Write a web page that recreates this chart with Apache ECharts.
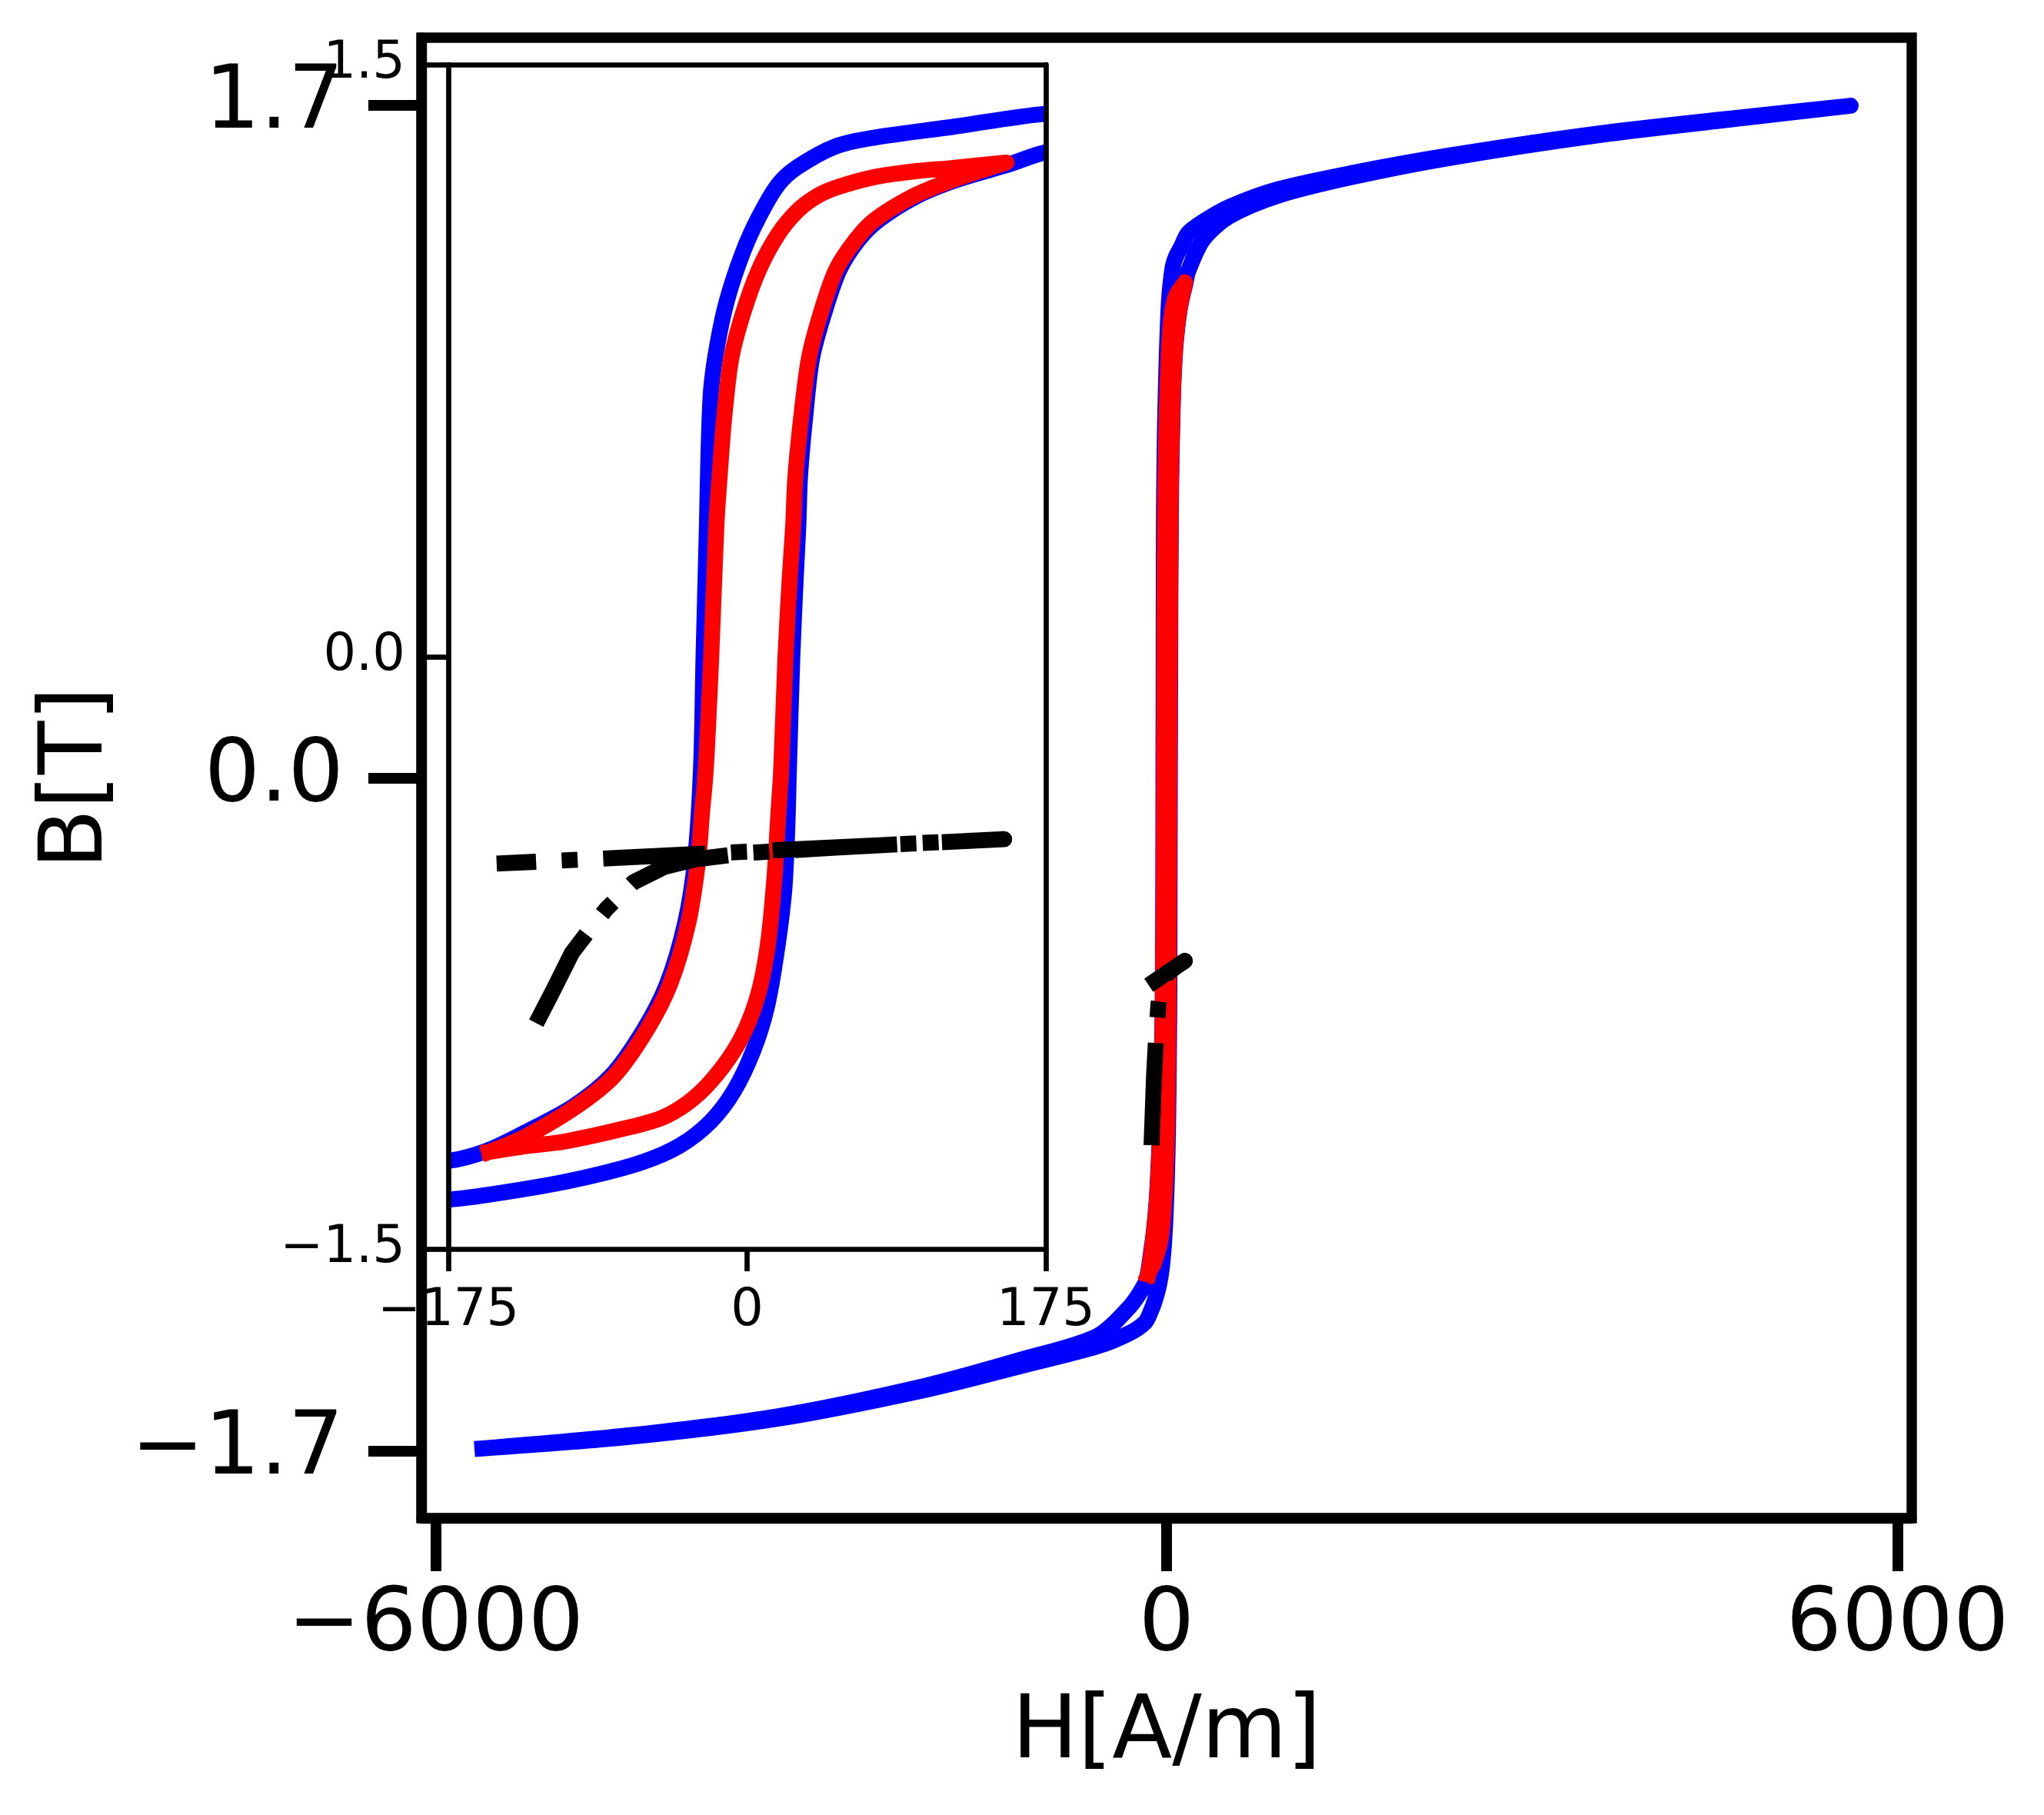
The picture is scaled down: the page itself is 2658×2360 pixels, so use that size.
<!DOCTYPE html>
<html>
<head>
<meta charset="utf-8">
<script src="https://cdn.jsdelivr.net/npm/echarts@6/dist/echarts.min.js"></script>
<style>
    html, body { margin: 0; padding: 0; background: #fff; }
    #chart { width: 2658px; height: 2360px; }
</style>
</head>
<body>
<div id="chart"></div>
<script>
// H [A/m], B [T]
var blueAscending = [
    [-5616, -1.694], [-4415, -1.665], [-3196, -1.619], [-1983, -1.546], [-1175, -1.484],
    [-569, -1.436], [-300, -1.402], [-175, -1.375], [-130, -1.348], [-96, -1.320],
    [-62, -1.281], [-39.3, -1.238], [-21.3, -1.177], [-7.7, -1.100], [3.6, -0.998],
    [11.5, -0.889], [17.2, -0.751], [21.7, -0.595], [23.5, -0.440], [24.5, -0.285],
    [26.5, 0.0], [28.5, 0.200], [30, 0.331], [31, 0.456], [34, 0.606],
    [38, 0.755], [45, 0.868], [54, 0.979], [65, 1.054], [77, 1.106],
    [99, 1.166], [122, 1.207], [154, 1.248], [176, 1.279], [300, 1.360],
    [512, 1.418], [916, 1.471], [1522, 1.518], [2337, 1.567], [3550, 1.624],
    [4763, 1.668], [5616, 1.698]
];
var blueDescending = [
    [5616, 1.698], [4763, 1.670], [3550, 1.628], [2337, 1.573], [1522, 1.528],
    [916, 1.487], [512, 1.442], [300, 1.405], [176, 1.376], [120, 1.342],
    [74.6, 1.315], [52, 1.293], [29.4, 1.240], [18, 1.195], [6.8, 1.113],
    [-2.5, 1.024], [-11.7, 0.904], [-17.3, 0.793], [-21, 0.680], [-22.5, 0.531],
    [-23.5, 0.337], [-25.5, 0.0], [-27, -0.285], [-30.5, -0.517], [-36.2, -0.673],
    [-46.8, -0.828], [-60.4, -0.944], [-79.6, -1.061], [-101.8, -1.139], [-130, -1.205],
    [-152.3, -1.251], [-175, -1.277], [-300, -1.335], [-569, -1.410], [-1175, -1.468],
    [-1983, -1.536], [-3196, -1.613], [-4415, -1.661], [-5616, -1.694]
];
var redAscending = [
    [-151, -1.254], [-130, -1.240], [-107, -1.228], [-73, -1.196], [-50.6, -1.169],
    [-34.8, -1.130], [-21.3, -1.076], [-7.7, -0.998], [1.4, -0.920], [8.1, -0.828],
    [12.7, -0.712], [16.1, -0.556], [18.3, -0.401], [20, -0.285], [22.5, 0.0],
    [25, 0.200], [27, 0.331], [28.3, 0.456], [31.7, 0.606], [36.2, 0.755],
    [43, 0.868], [52, 0.979], [63.3, 1.054], [74.6, 1.106], [97, 1.166],
    [120, 1.207], [152, 1.252]
];
var redDescending = [
    [152, 1.252], [120, 1.238], [97, 1.229], [74.6, 1.215], [52, 1.188],
    [40.7, 1.166], [29.4, 1.129], [18, 1.069], [6.8, 0.979], [-2.5, 0.868],
    [-9.3, 0.755], [-13.4, 0.606], [-16.1, 0.456], [-18, 0.331], [-21, 0.0],
    [-24.2, -0.285], [-26.5, -0.400], [-28.7, -0.517], [-34.4, -0.673], [-45, -0.828],
    [-58.6, -0.944], [-77.8, -1.061], [-100, -1.139], [-130, -1.216], [-151, -1.254]
];
// minor loop, drawn dash-dot
var blackPath = [
    [-123.5, -0.928], [-113, -0.840], [-102.6, -0.750], [-92, -0.690], [-82.3, -0.638],
    [-66.5, -0.571], [-48.4, -0.532], [-30.3, -0.513], [0, -0.497], [50, -0.484],
    [100, -0.472], [150.6, -0.462], [-146.7, -0.524]
];

var mainHTicks = [-6000, 0, 6000];
var mainBTicks = [-1.7, 0, 1.7];
var insetHTicks = [-175, 0, 175];
var insetBTicks = [-1.5, 0, 1.5];

var FONT = 'DejaVu Sans';
var LW = 20.8;
var DASHDOT = [6.4 * LW, 1.6 * LW, LW, 1.6 * LW];

// inset frame in pixels; the series grid sits LW/2 inside it because
// echarts widens the clip rect by half the line width
var INSET = { left: 583, right: 1298, top: 84, bottom: 736 };
var insetW = 2658 - INSET.left - INSET.right;
var insetH = 2360 - INSET.top - INSET.bottom;
var hHalf = 175 * (insetW - LW) / insetW;
var bHalf = 1.5 * (insetH - LW) / insetH;

function minus(s) {
    return String(s).replace('-', '\u2212');
}
function oneDec(v) {
    return minus(v.toFixed(1));
}

var chart = echarts.init(document.getElementById('chart'));

function curves(ax) {
    return [
        {
            type: 'line', xAxisIndex: ax, yAxisIndex: ax,
            data: blueAscending.concat(blueDescending.slice(1)),
            showSymbol: false, symbol: 'none', silent: true, clip: true, z: 2, smooth: 0.3,
            lineStyle: { color: '#0000ff', width: LW, cap: 'square', join: 'round' }
        },
        {
            type: 'line', xAxisIndex: ax, yAxisIndex: ax,
            data: redAscending.concat(redDescending.slice(1)),
            showSymbol: false, symbol: 'none', silent: true, clip: true, z: 3, smooth: 0.3,
            lineStyle: { color: '#ff0000', width: LW, cap: 'square', join: 'round' }
        },
        {
            type: 'line', xAxisIndex: ax, yAxisIndex: ax,
            data: blackPath,
            showSymbol: false, symbol: 'none', silent: true, clip: true, z: 4, smooth: false,
            lineStyle: { color: '#000', width: LW, type: DASHDOT, cap: 'butt', join: 'round' }
        }
    ];
}

function frameAxis(grid, pos, min, max, interval, ticks, labels, margin) {
    var ax = {
        gridIndex: grid, type: 'value', position: pos, min: min, max: max, z: 10,
        splitLine: { show: false },
        axisLine: { show: true, onZero: false, lineStyle: { color: '#000', width: 6.7 } },
        axisTick: { show: !!ticks, length: 29, lineStyle: { color: '#000', width: 6.7 } },
        axisLabel: { show: !!labels, margin: margin, fontSize: 67, fontFamily: FONT,
                     color: '#000', formatter: labels }
    };
    if (interval) { ax.interval = interval; }
    if (ticks) { ax.axisTick.customValues = ticks; ax.axisLabel.customValues = ticks; }
    return ax;
}

chart.setOption({
    animation: false,
    backgroundColor: '#fff',
    grid: [
        // main axes
        { left: 548, right: 172, top: 49, bottom: 386, show: true,
          borderColor: '#000', borderWidth: 13.4, backgroundColor: 'transparent' },
        // inset, series only
        { left: INSET.left + LW / 2, right: INSET.right + LW / 2,
          top: INSET.top + LW / 2, bottom: INSET.bottom + LW / 2 },
        // inset frame, ticks and labels
        { left: INSET.left, right: INSET.right, top: INSET.top, bottom: INSET.bottom,
          show: true, borderWidth: 0, backgroundColor: '#fff' }
    ],
    xAxis: [
        {
            gridIndex: 0, type: 'value', min: -6117, max: 6117,
            name: 'H[A/m]', nameLocation: 'middle', nameGap: 224,
            nameTextStyle: { fontSize: 114, fontFamily: FONT, color: '#000' },
            splitLine: { show: false },
            axisLine: { show: true, onZero: false, lineStyle: { color: '#000', width: 13.4 } },
            axisTick: { show: true, customValues: mainHTicks, length: 69,
                        lineStyle: { color: '#000', width: 14 } },
            axisLabel: { customValues: mainHTicks, margin: 84, fontSize: 114,
                         fontFamily: FONT, color: '#000', formatter: minus }
        },
        { gridIndex: 1, type: 'value', min: -hHalf, max: hHalf, show: false },
        frameAxis(2, 'bottom', -175, 175, 175, insetHTicks, minus, 48),
        frameAxis(2, 'top', -175, 175, 175, null, null, 0)
    ],
    yAxis: [
        {
            gridIndex: 0, type: 'value', min: -1.87, max: 1.87,
            name: 'B[T]', nameLocation: 'middle', nameGap: 356,
            nameTextStyle: { fontSize: 114, fontFamily: FONT, color: '#000' },
            splitLine: { show: false },
            axisLine: { show: true, onZero: false, lineStyle: { color: '#000', width: 13.4 } },
            axisTick: { show: true, customValues: mainBTicks, length: 69,
                        lineStyle: { color: '#000', width: 14 } },
            axisLabel: { customValues: mainBTicks, margin: 101, fontSize: 114,
                         fontFamily: FONT, color: '#000', formatter: oneDec }
        },
        { gridIndex: 1, type: 'value', min: -bHalf, max: bHalf, show: false },
        frameAxis(2, 'left', -1.5, 1.5, 1.5, insetBTicks, oneDec, 56),
        frameAxis(2, 'right', -1.5, 1.5, 1.5, null, null, 0)
    ],
    series: curves(0).concat(curves(1))
});
</script>
</body>
</html>
